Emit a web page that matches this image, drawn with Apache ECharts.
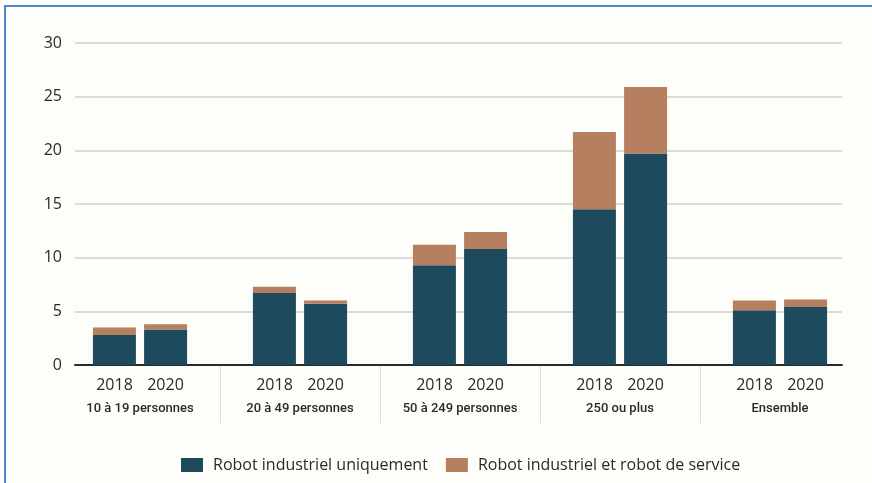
<!DOCTYPE html>
<html>
<head>
<meta charset="utf-8">
<script src="https://cdn.jsdelivr.net/npm/echarts@6/dist/echarts.min.js"></script>
<style>
  html, body { margin: 0; padding: 0; background: #ffffff; }
  #wrap { position: relative; width: 872px; height: 483px; overflow: hidden; }
  #frame { position: absolute; left: 4px; top: 5px; right: 0; bottom: 0;
           border-left: 2px solid #4d88c6; border-top: 2px solid #4d88c6; background: #fdfdf9; }
  #chart { position: absolute; left: 0; top: 0; width: 872px; height: 483px; }
</style>
</head>
<body>
<div id="wrap">
  <div id="frame"></div>
  <div id="chart"></div>
</div>
<script>
// Part des entreprises utilisant des robots, par taille (en %)
const categories = ['10 à 19 personnes', '20 à 49 personnes', '50 à 249 personnes', '250 ou plus', 'Ensemble'];
const years = ['2018', '2020'];
const seriesNames = ['Robot industriel uniquement', 'Robot industriel et robot de service'];

const industriel2018 = [2.8, 6.7, 9.3, 14.5, 5.1];
const service2018    = [0.7, 0.6, 1.9, 7.2, 0.9];
const industriel2020 = [3.3, 5.7, 10.8, 19.7, 5.4];
const service2020    = [0.5, 0.3, 1.6, 6.2, 0.7];

const yTicks = { min: 0, max: 30, interval: 5 };

const COL_TEAL = '#1d4b5d';
const COL_BROWN = '#b67f60';
const TXT = '#2a2a2a';
const NARROW = 'Roboto, "Open Sans", sans-serif';

const chart = echarts.init(document.getElementById('chart'), null, { renderer: 'canvas' });

const barBase = { type: 'bar', xAxisIndex: 0, yAxisIndex: 0, barWidth: 43, barGap: '19%' };

chart.setOption({
  backgroundColor: 'transparent',
  animation: false,
  legend: {
    left: 176, top: 452,
    itemWidth: 22, itemHeight: 14, itemGap: 18,
    icon: 'rect',
    data: seriesNames,
    textStyle: { fontFamily: '"Open Sans", sans-serif', fontSize: 16, color: TXT, padding: [0, 0, 0, 5] }
  },
  grid: [
    // bars
    { left: 60, right: 12, top: 43, bottom: 118 },
    // y axis, gridlines and baseline
    { left: 75, right: 30, top: 43, bottom: 118 },
    // group separators below the baseline
    { left: 60, right: 12, top: 366, bottom: 60 }
  ],
  xAxis: [
    {
      gridIndex: 0, type: 'category', data: categories,
      axisLine: { show: false }, axisTick: { show: false },
      axisLabel: {
        margin: 8, interval: 0,
        formatter: (v) => '{y|' + years[0] + '}{y|' + years[1] + '}\n{g|' + v + '}',
        rich: {
          y: { width: 51, align: 'center', fontFamily: '"Open Sans", sans-serif', fontSize: 16, color: TXT, lineHeight: 24 },
          g: { fontFamily: NARROW, fontSize: 13, fontWeight: 500, color: TXT, lineHeight: 24 }
        }
      }
    },
    {
      gridIndex: 1, type: 'category', data: categories,
      axisLine: { show: true, lineStyle: { color: '#2b2b2b', width: 2 } },
      axisTick: { show: false }, axisLabel: { show: false }
    },
    {
      gridIndex: 2, type: 'category', data: categories,
      axisLine: { show: false }, axisTick: { show: false }, axisLabel: { show: false },
      splitLine: { show: true, showMinLine: false, showMaxLine: false, lineStyle: { color: '#dcdcdc', width: 1 } }
    }
  ],
  yAxis: [
    { gridIndex: 0, type: 'value', min: yTicks.min, max: yTicks.max, interval: yTicks.interval, show: false },
    {
      gridIndex: 1, type: 'value', min: yTicks.min, max: yTicks.max, interval: yTicks.interval,
      axisLine: { show: false }, axisTick: { show: false },
      axisLabel: { margin: 13, fontFamily: '"Open Sans", sans-serif', fontSize: 16, color: TXT },
      splitLine: { show: true, lineStyle: { color: '#cfcfcf', width: 1.5 } }
    },
    { gridIndex: 2, type: 'value', show: false }
  ],
  series: [
    Object.assign({}, barBase, { name: seriesNames[0], stack: years[0], data: industriel2018, itemStyle: { color: COL_TEAL } }),
    Object.assign({}, barBase, { name: seriesNames[1], stack: years[0], data: service2018, itemStyle: { color: COL_BROWN } }),
    Object.assign({}, barBase, { name: seriesNames[0], stack: years[1], data: industriel2020, itemStyle: { color: COL_TEAL } }),
    Object.assign({}, barBase, { name: seriesNames[1], stack: years[1], data: service2020, itemStyle: { color: COL_BROWN } })
  ]
});
</script>
</body>
</html>
